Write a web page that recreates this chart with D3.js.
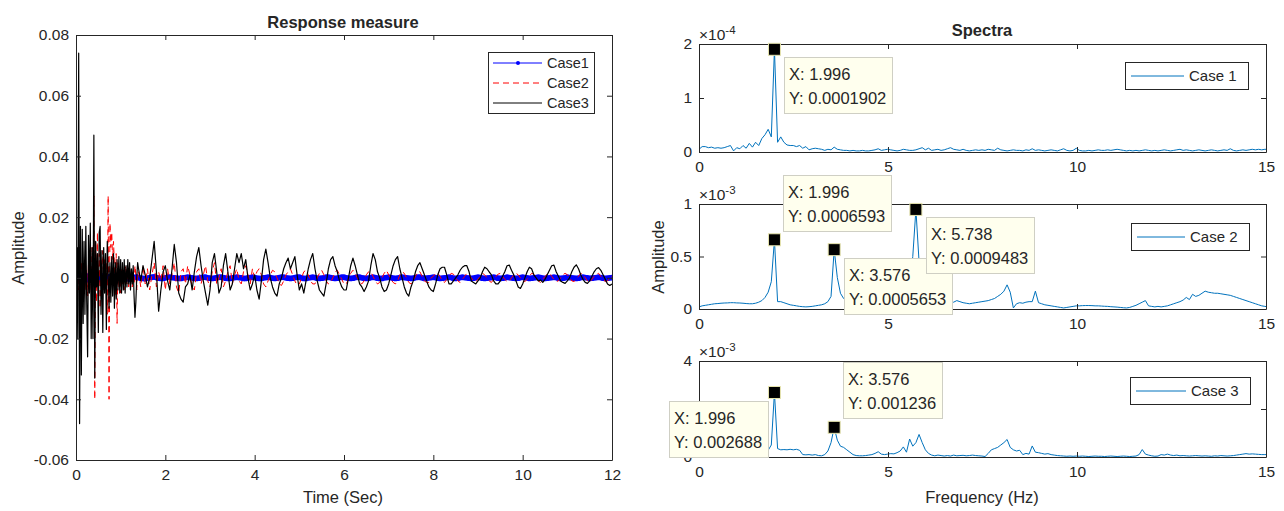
<!DOCTYPE html>
<html>
<head>
<meta charset="utf-8">
<script src="https://cdn.jsdelivr.net/npm/d3@7"></script>
<style>
  body { margin: 0; background: #fff; }
  svg text { font-family: "Liberation Sans", Arial, sans-serif; fill: #262626; }
</style>
</head>
<body>
<div id="chart"></div>
<script>
// ---- response measure (values in thousandths) ----
const respDtFine = 0.02;     // 0 .. 1.38 s
const respDtCoarse = 0.05;   // 1.40 .. 12 s
const respSplit = 1.4;

const case1 = [ // dt 0.05 from 0 s
  0, 1.2, -0.8, 0.9, -1.1, 0.6, -0.7, 1.0, -0.9, 0.5, -0.6, 0.8, -0.5, 0.7, -0.8, 0.4, -0.6, 0.6, -0.3, 0.5,
  -0.4, 0.5, -0.2, 0.4, -0.5, 0.3, 0.1, 0.3, 0.1, -0.1, -0.2, -0.3, -0.1, 0.1, 0.2, 0.3, 0.1, -0.1, -0.2, -0.2,
  0, 0.2, 0.2, 0.1, 0, -0.1, -0.2, -0.2, 0, 0.1, 0.2, 0.1, 0, -0.2, -0.2, -0.1, 0.1, 0.2, 0.2, 0,
  -0.1, -0.2, -0.1, 0.1, 0.2, 0.2, 0.1, -0.1, -0.2, -0.2, 0, 0.1, 0.2, 0.1, 0, -0.2, -0.2, 0, 0.1, 0.2,
  0.1, -0.1, -0.2, -0.2, 0, 0.1, 0.2, 0.1, -0.1, -0.2, -0.1, 0.1, 0.2, 0.2, 0, -0.1, -0.2, -0.1, 0.1, 0.2,
  0.2, 0, -0.2, -0.2, 0, 0.1, 0.2, 0.1, -0.1, -0.2, -0.1, 0, 0.2, 0.2, 0.1, -0.1, -0.2, -0.1, 0.1, 0.2,
  0.2, 0, -0.1, -0.2, -0.1, 0.1, 0.2, 0.2, 0, -0.1, -0.2, -0.1, 0.1, 0.2, 0.1, -0.1, -0.2, -0.2, 0, 0.1,
  0.2, 0.1, -0.1, -0.2, -0.1, 0.1, 0.2, 0.1, 0, -0.1, -0.2, -0.1, 0.1, 0.2, 0.2, 0, -0.2, -0.1, 0, 0.1,
  0.2, 0.1, -0.1, -0.2, -0.1, 0, 0.1, 0.2, 0.1, -0.1, -0.2, -0.1, 0.1, 0.2, 0.1, 0, -0.1, -0.2, -0.1, 0.1,
  0.2, 0.1, -0.1, -0.2, -0.1, 0, 0.1, 0.2, 0.1, -0.1, -0.2, -0.1, 0, 0.2, 0.1, 0, -0.1, -0.2, -0.1, 0.1,
  0.2, 0.1, 0, -0.2, -0.1, 0, 0.1, 0.2, 0.1, -0.1, -0.2, -0.1, 0, 0.1, 0.2, 0.1, -0.1, -0.2, -0.1, 0,
  0.2, 0.1, 0, -0.1, -0.2, -0.1, 0.1, 0.2, 0.1, 0, -0.2, -0.1, 0, 0.1, 0.2, 0.1, -0.1, -0.2, -0.1, 0,
  0.1
];

const case2Early = [
  -3, -6, 2, -4, 3, -2, 5, -5, 4, -3,
  6, -4, 3, -6, 5, -2, 8, -5, 10, -3,
  27, -40, 12, -8, 15, -6, 8, -10, 6, 3,
  9, -4, 6, -2, 5, -12, 27, -40, 18, 10,
  15, 6, 12, 4, -6, 8, -15, 5, -3, 2,
  -5, 3, -2, 2, -4, 3, 4, -2, 2, -3,
  3, -1, 1, -3, 2, -2, 4, 1, -4, 2
];
const case2Late = [
  2, -3, 4, -2, 3, -4, 1, 5, -3, 2, -1, 4, -4, 3, -2, 1, 5, -3, -5, 2,
  3, -2, 4, 1, -3, -4, 2, 3, -2, 1, 4, -1, -3, 2, 5, -2, 0, 3, -3, -1,
  2, 4, -2, 1, 3, -1, -2, 2, 4, 1, -2, 3,
  0, 2, 3, 1, -2, -3, -1, 1, 2.5, 2, 0, -2, -2.5, -1, 1, 2, 3, 1, -1, -2.5,
  -2, 0, 2, 2.5, 1, -1, -2, -2, 0, 1.5, 2.5, 1, -1, -2, -1.5, 0, 2, 2.5, 1, -0.5,
  -2, -2, -0.5, 1.5, 2.5, 1.5, 0, -1.5, -2, -1, 1, 2, 2, 0.5, -1, -2, -1.5, 0, 1.5, 2.5,
  1, -0.5, -1.5, -2, -1, 1, 2, 1.5, 0, -1.5, -2, -1, 0.5, 2, 2, 0.5, -1, -1.5, -1.5, 0,
  0.5, 1.5, 1.5, 0.5, -1, -1.5, -0.5, 0.5, 1.5, 1.2, 0, -1, -1.5, -0.5, 0.5, 1.5, 1.2, 0, -1, -1.2,
  -0.5, 0.5, 1.5, 1, 0, -1, -1.5, -0.5, 0.5, 1.2, 1.5, 0.5, -0.5, -1.2, -1, 0, 1, 1.5, 1, 0,
  -1, -1.2, -0.5, 0.5, 1.5, 1.2, 0, -1, -1.5, -0.5, 0.5, 1.2, 1.5, 0.5, -0.5, -1.2, -1, 0, 1, 1.5,
  1, 0, -1, -1.2, -0.5, 0.5, 1.5, 1.2, 0, -1, -1.5, -0.5, 0.5, 1.2, 1.5, 0.5, -0.5, -1.2, -1, 0,
  0.5
];

const case3Early = [
  0, 10, -20, 74, -48, 17, -32, 16, -15, 12,
  -12, 17, -8, -26, 14, -5, 18, -20, 10, -20,
  47, -33, 12, -3, 8, -18, 15, 17, -12, 9,
  -18, 10, -5, 8, -17, 12, 2, -10, 5, -8,
  7, -6, 8, -10, 5, -7, 6, -4, 7, -5,
  6, -5, 5, -4, 6, -5, 4, -3, 6, -2,
  5, -4, 3, -2, 4, -6, -13, -8, 0, 5
];
const case3Late = [
  3, -1, 4, 1, -3, 0, 6, 12, 2, -11, -4, 2, 4, -1, -4, 3, 11, 5, -5, -7,
  -8, -3, -2, 1, -4, 2, 7, 10, 4, -1, -5, -9, -4, 5, 8, 2, -5, -3, 4, 8,
  2, -4, -2, 3, 8, 5, 8, 3, 6, 0, -4, -2, 1, -4, -7, -1, 6, 9.5, 5, 0,
  -3, -5, -6, -2, 0, 3, 5, 6.5, 3, 5, 7, 1, -4, -2, -5, -1, 3, 6, 8, 3,
  -1, -4, -5, -6, -2, 3, 6, 7, 4, 2, -1, -3, -4, -4, 0, 4, 6.5, 4, 1, -2,
  -3, -4.5, -3, -1, 4, 8, 6, 2, 0, -3, -4.5, -4, -2, 1, 4, 6, 7, 3, 0, -3,
  -5, -6, -3, -1, 2, 4, 5, 3, 1, -1, -3, -4, -4.5, -2, 1, 3, 3.5, 3.5, 1, -2,
  -2, -1, 0, 1, 2.5, 3.5, 4, 4, 2, -1, -1.5, -2, -1, 0, 2, 3.5, 3, 2, 1, -1,
  -2, -2, -1, 0.5, 2, 4, 4.2, 2.5, 1, -1, -3, -3.5, -2, 0, 2, 3.5, 3, 1, 0, -1,
  -0.7, -1.5, -0.5, 1, 2.5, 4, 4.2, 2, 0.5, -1, -1.5, -1.8, -1, 0, 2, 3.5, 4.3, 3, 1, -0.5,
  -1.5, -1.8, -1, 0.5, 2, 3, 3.4, 2.5, 1, -0.5, -2, -2.5, -2
];

const respXTicks = [0, 2, 4, 6, 8, 10, 12];
const respXLabels = ["0", "2", "4", "6", "8", "10", "12"];
const respYTicks = [-0.06, -0.04, -0.02, 0, 0.02, 0.04, 0.06, 0.08];
const respYLabels = ["-0.06", "-0.04", "-0.02", "0", "0.02", "0.04", "0.06", "0.08"];
const respLegend = ["Case1", "Case2", "Case3"];

// ---- spectra (frequency step = 1.996/24 Hz) ----
const specDf = 1.996 / 24;
const spec1 = [ // x1e-4
  0.05, 0.10, 0.10, 0.08, 0.09, 0.07, 0.08, 0.07, 0.08, 0.10,
  0.12, 0.02, 0.08, 0.06, 0.12, 0.07, 0.16, 0.09, 0.18, 0.12,
  0.25, 0.32, 0.42, 0.28, 1.902, 0.18, 0.28, 0.18, 0.13, 0.12,
  0.12, 0.10, 0.12, 0.07, 0.10, 0.04, 0.06, 0.07, 0.06, 0.05,
  0.03, 0.05, 0.04, 0.09, 0.05, 0.04, 0.03, 0.03, 0.02, 0.03,
  0.02, 0.02, 0.03, 0.02, 0.02, 0.03, 0.04, 0.06, 0.03, 0.04,
  0.05, 0.04, 0.03, 0.02, 0.03, 0.05, 0.04, 0.03, 0.03, 0.04,
  0.06, 0.08, 0.04, 0.07, 0.03, 0.04, 0.05, 0.03, 0.04, 0.06,
  0.08, 0.05, 0.04, 0.03, 0.05, 0.03, 0.02, 0.03, 0.04, 0.03,
  0.04, 0.03, 0.05, 0.04, 0.03, 0.07, 0.04, 0.03, 0.02, 0.03,
  0.04, 0.03, 0.03, 0.02, 0.04, 0.03, 0.06, 0.03, 0.04, 0.03,
  0.02, 0.03, 0.04, 0.03, 0.02, 0.04, 0.06, 0.03, 0.02, 0.03,
  0.07, 0.03, 0.02, 0.02, 0.03, 0.02, 0.03, 0.04, 0.03, 0.03,
  0.04, 0.03, 0.04, 0.05, 0.04, 0.03, 0.02, 0.03, 0.02, 0.03,
  0.02, 0.03, 0.04, 0.03, 0.02, 0.03, 0.02, 0.03, 0.04, 0.03,
  0.02, 0.03, 0.04, 0.05, 0.03, 0.04, 0.03, 0.02, 0.03, 0.04,
  0.03, 0.02, 0.03, 0.04, 0.03, 0.02, 0.03, 0.04, 0.03, 0.06,
  0.03, 0.02, 0.03, 0.04, 0.03, 0.04, 0.05, 0.04, 0.05, 0.04,
  0.05, 0.05
];
const spec2 = [ // x1e-3
  0.02, 0.03, 0.035, 0.04, 0.045, 0.05, 0.052, 0.055, 0.057, 0.058,
  0.06, 0.06, 0.058, 0.057, 0.055, 0.052, 0.05, 0.05, 0.055, 0.065,
  0.08, 0.11, 0.16, 0.26, 0.6593, 0.07, 0.07, 0.06, 0.05, 0.04,
  0.035, 0.03, 0.025, 0.022, 0.02, 0.022, 0.025, 0.03, 0.035, 0.04,
  0.05, 0.07, 0.12, 0.5653, 0.3, 0.15, 0.1, 0.08, 0.07, 0.06,
  0.055, 0.05, 0.05, 0.05, 0.055, 0.06, 0.06, 0.065, 0.07, 0.07,
  0.075, 0.08, 0.085, 0.09, 0.1, 0.12, 0.15, 0.2, 0.5, 0.9483,
  0.45, 0.2, 0.13, 0.1, 0.09, 0.08, 0.075, 0.07, 0.07, 0.065,
  0.06, 0.065, 0.08, 0.07, 0.06, 0.055, 0.05, 0.055, 0.06, 0.065,
  0.07, 0.075, 0.08, 0.09, 0.1, 0.12, 0.14, 0.17, 0.23, 0.16,
  0.01, 0.05, 0.06, 0.055, 0.065, 0.07, 0.07, 0.17, 0.06, 0.05,
  0.04, 0.035, 0.03, 0.025, 0.02, 0.015, 0.01, 0.015, 0.02, 0.025,
  0.03, 0.03, 0.032, 0.033, 0.033, 0.032, 0.03, 0.03, 0.028, 0.026,
  0.025, 0.022, 0.02, 0.018, 0.015, 0.012, 0.01, 0.015, 0.025, 0.035,
  0.05, 0.065, 0.08, 0.03, 0.025, 0.02, 0.025, 0.02, 0.025, 0.03,
  0.04, 0.05, 0.06, 0.07, 0.085, 0.11, 0.09, 0.14, 0.12, 0.13,
  0.15, 0.17, 0.16, 0.155, 0.15, 0.15, 0.145, 0.14, 0.135, 0.13,
  0.12, 0.11, 0.1, 0.09, 0.08, 0.07, 0.06, 0.05, 0.04, 0.03,
  0.025, 0.02
];
const spec3 = [ // x1e-3
  0.3, 0.35, 0.4, 0.35, 0.3, 0.32, 0.28, 0.3, 0.25, 0.28,
  0.25, 0.3, 0.22, 0.25, 0.2, 0.22, 0.18, 0.2, 0.15, 0.18,
  0.2, 0.25, 0.28, 0.5, 2.688, 0.35, 0.3, 0.31, 0.3, 0.32,
  0.3, 0.32, 0.28, 0.1, 0.09, 0.1, 0.08, 0.1, 0.06, 0.05,
  0.1, 0.25, 0.6, 1.236, 0.7, 0.45, 0.4, 0.3, 0.2, 0.1,
  0.06, 0.05, 0.05, 0.06, 0.08, 0.1, 0.15, 0.22, 0.12, 0.1,
  0.12, 0.14, 0.13, 0.18, 0.25, 0.42, 0.2, 0.75, 0.45, 0.6,
  0.94, 0.6, 0.3, 0.15, 0.08, 0.05, 0.08, 0.06, 0.04, 0.06,
  0.04, 0.08, 0.05, 0.06, 0.07, 0.05, 0.06, 0.08, 0.06, 0.05,
  0.04, 0.02, 0.15, 0.3, 0.35, 0.4, 0.5, 0.6, 0.73, 0.4,
  0.3, 0.25, 0.28, 0.1, 0.15, 0.12, 0.46, 0.2, 0.18, 0.15,
  0.12, 0.14, 0.1, 0.08, 0.06, 0.05, 0.04, 0.03, 0.04, 0.03,
  0.04, 0.03, 0.04, 0.03, 0.02, 0.03, 0.04, 0.03, 0.03, 0.02,
  0.03, 0.04, 0.03, 0.02, 0.03, 0.04, 0.03, 0.02, 0.03, 0.04,
  0.1, 0.31, 0.12, 0.08, 0.05, 0.03, 0.04, 0.1, 0.08, 0.12,
  0.08, 0.06, 0.08, 0.05, 0.06, 0.05, 0.04, 0.05, 0.06, 0.05,
  0.04, 0.05, 0.04, 0.03, 0.05, 0.04, 0.06, 0.05, 0.04, 0.05,
  0.06, 0.08, 0.1, 0.12, 0.14, 0.12, 0.13, 0.12, 0.11, 0.1,
  0.1, 0.1
];
const specNames = ["Case 1", "Case 2", "Case 3"];
const specExponents = ["-4", "-3", "-3"];
const specYMax = [2, 1, 4];
const specYTicks = [[0, 1, 2], [0, 0.5, 1], [0, 2, 4]];
// the "2" of the bottom panel sits under a data tip in the original, so it is left blank
const specYLabels = [["0", "1", "2"], ["0", "0.5", "1"], ["0", "", "4"]];
const specXTicks = [0, 5, 10, 15];
const specXLabels = ["0", "5", "10", "15"];

// data tips: which spectrum, x, y (axis units), shown text, placement
const tipPanel = [0, 1, 1, 1, 2, 2];
const tipX = [1.996, 1.996, 3.576, 5.738, 3.576, 1.996];
const tipY = [1.902, 0.6593, 0.5653, 0.9483, 1.236, 2.688];
const tipXText = ["1.996", "1.996", "3.576", "5.738", "3.576", "1.996"];
const tipYText = ["0.0001902", "0.0006593", "0.0005653", "0.0009483", "0.001236", "0.002688"];
const tipPlace = ["se", "ne", "se", "se", "ne", "sw"];

// ---------------------------------------------------------------
const FONT = '"Liberation Sans", Arial, sans-serif';
const AX = "#262626";
const svg = d3.select("#chart").append("svg")
  .attr("width", 1284).attr("height", 511);

function frame(g, x, y, xTicks, xLabels, yTicks, yLabels) {
  const [x0, x1] = x.range();
  const [yb, yt] = y.range();
  const tl = 5;
  g.append("g").attr("transform", `translate(0,${yb})`)
    .call(d3.axisBottom(x).tickValues(xTicks).tickFormat((d, i) => xLabels[i])
      .tickSizeInner(-tl).tickSizeOuter(0).tickPadding(9));
  g.append("g").attr("transform", `translate(0,${yt})`)
    .call(d3.axisTop(x).tickValues(xTicks).tickFormat("").tickSizeInner(-tl).tickSizeOuter(0));
  g.append("g").attr("transform", `translate(${x0},0)`)
    .call(d3.axisLeft(y).tickValues(yTicks).tickFormat((d, i) => yLabels[i])
      .tickSizeInner(-tl).tickSizeOuter(0).tickPadding(7));
  g.append("g").attr("transform", `translate(${x1},0)`)
    .call(d3.axisRight(y).tickValues(yTicks).tickFormat("").tickSizeInner(-tl).tickSizeOuter(0));
  g.selectAll(".domain, .tick line").attr("stroke", AX);
  g.selectAll(".tick text").attr("font-size", 15.5).attr("font-family", FONT).attr("fill", AX);
}

function clip(id, x, y) {
  svg.append("clipPath").attr("id", id).append("rect")
    .attr("x", x.range()[0]).attr("y", y.range()[1])
    .attr("width", x.range()[1] - x.range()[0])
    .attr("height", y.range()[0] - y.range()[1]);
}

// ---- left: response measure ----
const xT = d3.scaleLinear().domain([0, 12]).range([76, 612]);
const yA = d3.scaleLinear().domain([-0.06, 0.08]).range([460, 35]);
clip("clipResp", xT, yA);

function timeSeries(early, late) {
  const pts = early.map((v, i) => [i * respDtFine, v * 1e-3]);
  late.forEach((v, i) => pts.push([respSplit + i * respDtCoarse, v * 1e-3]));
  return pts;
}
const c1 = case1.map((v, i) => [i * respDtCoarse, v * 1e-3]);
const c2 = timeSeries(case2Early, case2Late);
const c3 = timeSeries(case3Early, case3Late);

const respLine = d3.line().x(d => xT(d[0])).y(d => yA(d[1]));
const resp = svg.append("g").attr("clip-path", "url(#clipResp)");
resp.append("path").datum(c1).attr("d", respLine)
  .attr("fill", "none").attr("stroke", "#0000ff").attr("stroke-width", 1);
resp.selectAll("circle.c1").data(c1).join("circle").attr("class", "c1")
  .attr("cx", d => xT(d[0])).attr("cy", d => yA(d[1])).attr("r", 2.9).attr("fill", "#0000ff");
resp.append("path").datum(c2).attr("d", respLine)
  .attr("fill", "none").attr("stroke", "#ff0000").attr("stroke-width", 1)
  .attr("stroke-dasharray", "6,4");
resp.append("path").datum(c3).attr("d", respLine)
  .attr("fill", "none").attr("stroke", "#000").attr("stroke-width", 1.2)
  .attr("stroke-linejoin", "round");

const gResp = svg.append("g");
frame(gResp, xT, yA, respXTicks, respXLabels, respYTicks, respYLabels);

svg.append("text").attr("x", 343).attr("y", 28).attr("text-anchor", "middle")
  .attr("font-size", 16.5).attr("font-weight", "bold").attr("fill", "#000").text("Response measure");
svg.append("text").attr("x", 343).attr("y", 503).attr("text-anchor", "middle")
  .attr("font-size", 16.5).text("Time (Sec)");
svg.append("text").attr("transform", "translate(24,248) rotate(-90)").attr("text-anchor", "middle")
  .attr("font-size", 16.5).text("Amplitude");

// legend
const lg = svg.append("g").attr("transform", "translate(488,52)");
lg.append("rect").attr("x", 0.5).attr("y", 0.5).attr("width", 106).attr("height", 61)
  .attr("fill", "#fff").attr("stroke", AX);
const lgStyles = [
  { c: "#0000ff", dash: null, dot: true },
  { c: "#ff0000", dash: "6,4", dot: false },
  { c: "#000", dash: null, dot: false }
];
respLegend.forEach((name, i) => {
  const yy = 11 + i * 20;
  lg.append("line").attr("x1", 5).attr("x2", 54).attr("y1", yy).attr("y2", yy)
    .attr("stroke", lgStyles[i].c).attr("stroke-dasharray", lgStyles[i].dash);
  if (lgStyles[i].dot) lg.append("circle").attr("cx", 30).attr("cy", yy).attr("r", 2).attr("fill", lgStyles[i].c);
  lg.append("text").attr("x", 59).attr("y", yy + 5).attr("font-size", 14.5).attr("fill", "#000").text(name);
});

// ---- right: spectra ----
const xF = d3.scaleLinear().domain([0, 15]).range([699, 1266]);
const specRows = [[152, 44], [309, 204], [457, 361]];
const specData = [spec1, spec2, spec3];
const legendBoxes = [[1125, 62, 123], [1131, 223, 118], [1130, 377, 120]];
const yScales = specRows.map((r, k) => d3.scaleLinear().domain([0, specYMax[k]]).range(r));

specData.forEach((vals, k) => {
  const y = yScales[k];
  clip("clipSpec" + k, xF, y);
  const line = d3.line().x((d, i) => xF(i * specDf)).y(d => y(d));
  svg.append("g").attr("clip-path", `url(#clipSpec${k})`)
    .append("path").datum(vals).attr("d", line)
    .attr("fill", "none").attr("stroke", "#0072bd").attr("stroke-width", 1);
  const g = svg.append("g");
  frame(g, xF, y, specXTicks, specXLabels, specYTicks[k], specYLabels[k]);

  const ex = svg.append("text").attr("x", 699).attr("y", y.range()[1] - 4).attr("font-size", 15.5);
  ex.append("tspan").text("\u00d710");
  ex.append("tspan").attr("dy", -6).attr("font-size", 11.5).text(specExponents[k]);

  const [lx, ly, lw] = legendBoxes[k];
  const l = svg.append("g").attr("transform", `translate(${lx},${ly})`);
  l.append("rect").attr("x", 0.5).attr("y", 0.5).attr("width", lw).attr("height", 27)
    .attr("fill", "#fff").attr("stroke", AX);
  l.append("line").attr("x1", 6).attr("x2", lw - 64).attr("y1", 14).attr("y2", 14)
    .attr("stroke", "#0072bd");
  l.append("text").attr("x", lw - 59).attr("y", 19).attr("font-size", 15).attr("fill", "#000").text(specNames[k]);
});

svg.append("text").attr("x", 982).attr("y", 36).attr("text-anchor", "middle")
  .attr("font-size", 16.5).attr("font-weight", "bold").attr("fill", "#000").text("Spectra");
svg.append("text").attr("x", 982).attr("y", 503).attr("text-anchor", "middle")
  .attr("font-size", 16.5).text("Frequency (Hz)");
svg.append("text").attr("transform", "translate(664,257) rotate(-90)").attr("text-anchor", "middle")
  .attr("font-size", 16.5).text("Amplitude");

// ---- data tips (drawn last, on top) ----
tipX.forEach((fx, i) => {
  const y = yScales[tipPanel[i]];
  const mx = xF(fx), my = y(tipY[i]);
  const g = svg.append("g");
  const t1 = g.append("text").attr("font-size", 16.5).attr("fill", "#000").text("X: " + tipXText[i]);
  const t2 = g.append("text").attr("font-size", 16.5).attr("fill", "#000").text("Y: " + tipYText[i]);
  const w = Math.max(t1.node().getComputedTextLength(), t2.node().getComputedTextLength()) + 11;
  const h = 56;
  let bx, by;
  if (tipPlace[i] === "se") { bx = mx + 10; by = my + 8; }
  else if (tipPlace[i] === "ne") { bx = mx + 9; by = my - 9 - h; }
  else { bx = mx - 6 - w; by = my + 9; }
  g.insert("rect", "text").attr("x", Math.round(bx) + 0.5).attr("y", Math.round(by) + 0.5)
    .attr("width", Math.round(w)).attr("height", h)
    .attr("fill", "#ffffee").attr("stroke", "#cfcfc4");
  t1.attr("x", Math.round(bx) + 5).attr("y", Math.round(by) + 23);
  t2.attr("x", Math.round(bx) + 5).attr("y", Math.round(by) + 47);
  svg.append("rect").attr("x", mx - 6).attr("y", my - 6).attr("width", 12).attr("height", 12)
    .attr("fill", "#000").attr("stroke", "#e8e6b0").attr("stroke-width", 1);
});
</script>
</body>
</html>
